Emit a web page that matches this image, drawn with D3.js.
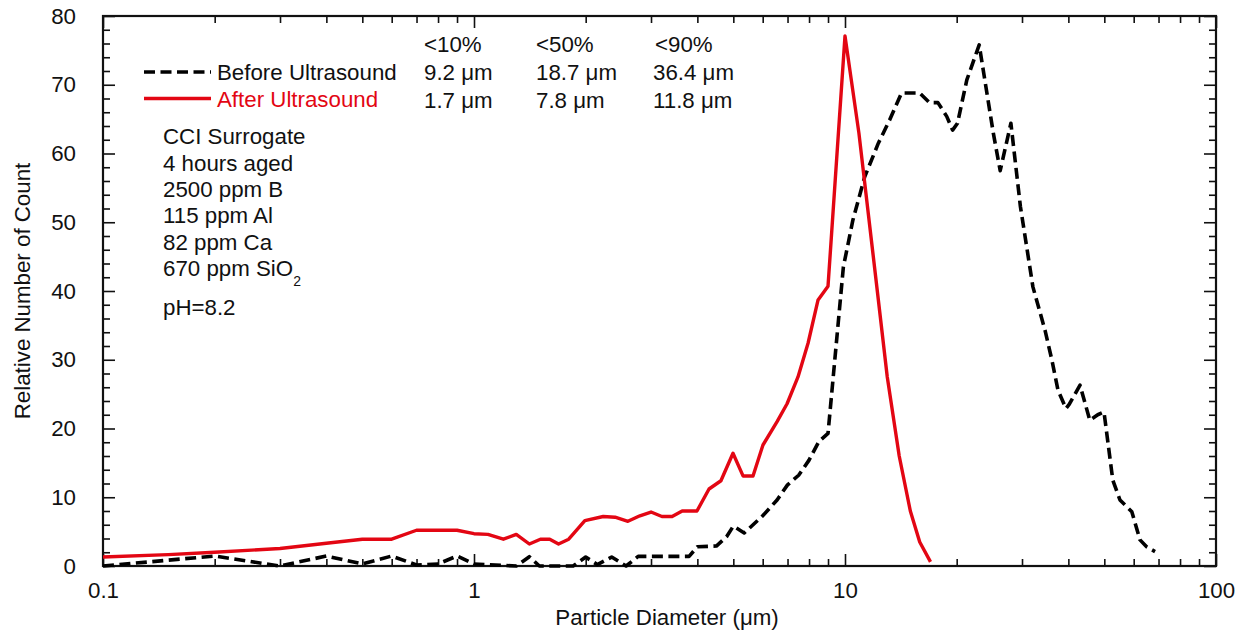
<!DOCTYPE html>
<html>
<head>
<meta charset="utf-8">
<script src="https://cdn.jsdelivr.net/npm/d3@7/dist/d3.min.js"></script>
<style>
  html, body { margin: 0; padding: 0; background: #fff; }
  svg text { font-family: "Liberation Sans", Arial, sans-serif; fill: #111; }
</style>
</head>
<body>
<svg id="chart" width="1248" height="634"></svg>
<script>
// Particle size distribution, before and after ultrasound (diameter in µm, relative count)
const beforeDiameter = [0.1, 0.2, 0.3, 0.4, 0.5, 0.6, 0.7, 0.8, 0.9, 1.0, 1.3, 1.41, 1.5, 1.85, 2.0, 2.15,
  2.35, 2.57, 2.77, 3.8, 4.0, 4.5, 4.8, 5.0, 5.35, 6.0, 6.56, 7.0, 7.5, 8.0, 8.5, 9.0, 9.9, 10.5, 11.3,
  12.3, 13.2, 14.2, 15.9, 16.9, 17.8, 18.8, 19.5, 20.1, 21.3, 23.0, 25.1, 26.2, 28.0, 29.7, 32.1, 34.6,
  36.1, 37.5, 39.4, 40.2, 43.0, 45.7, 48.0, 49.9, 52.7, 55.1, 59.3, 62.4, 65.0, 68.5];
const beforeCount = [0, 1.45, 0, 1.45, 0.3, 1.45, 0.15, 0.3, 1.45, 0.3, 0, 1.35, 0, 0, 1.3, 0.2,
  1.3, 0, 1.4, 1.4, 2.8, 2.9, 4.3, 5.8, 4.8, 7.3, 9.6, 11.8, 13.2, 15.4, 18.1, 19.3, 43.5, 50.3, 56.6,
  61.5, 64.9, 68.8, 68.8, 67.4, 67.4, 65.4, 63.4, 64.4, 70.7, 75.8, 63.0, 57.5, 64.4, 52.3, 40.6, 34.3,
  30.0, 25.6, 22.9, 23.5, 26.3, 21.2, 22.0, 22.4, 12.5, 9.6, 7.9, 3.8, 2.8, 2.1];

const afterDiameter = [0.1, 0.15, 0.2, 0.3, 0.4, 0.5, 0.6, 0.7, 0.8, 0.9, 1.0, 1.09, 1.2, 1.3, 1.41,
  1.51, 1.6, 1.69, 1.8, 1.99, 2.23, 2.4, 2.6, 2.8, 3.0, 3.21, 3.42, 3.64, 3.99, 4.3, 4.63, 4.99, 5.31,
  5.65, 6.01, 6.56, 6.98, 7.47, 7.95, 8.46, 9.0, 10.0, 10.9, 12.3, 13.0, 14.0, 15.0, 15.9, 17.0];
const afterCount = [1.3, 1.65, 2.0, 2.55, 3.3, 3.9, 3.9, 5.2, 5.2, 5.2, 4.7, 4.6, 3.9, 4.6, 3.2,
  3.9, 3.9, 3.2, 3.9, 6.6, 7.2, 7.1, 6.5, 7.3, 7.85, 7.2, 7.2, 8.0, 8.0, 11.2, 12.4, 16.4, 13.1,
  13.1, 17.6, 21.0, 23.6, 27.5, 32.4, 38.7, 40.7, 77.1, 63.0, 38.7, 27.5, 16.0, 8.0, 3.5, 0.6];

const seriesNames = ["Before Ultrasound", "After Ultrasound"];
const percentileHeaders = ["<10%", "<50%", "<90%"];
const beforePercentiles = ["9.2", "18.7", "36.4"];
const afterPercentiles = ["1.7", "7.8", "11.8"];
const sampleNotes = ["CCI Surrogate", "4 hours aged", "2500 ppm B", "115 ppm Al", "82 ppm Ca"];

const xMajorTicks = [0.1, 1, 10, 100];
const xTickLabels = ["0.1", "1", "10", "100"];
const yMajorTicks = [0, 10, 20, 30, 40, 50, 60, 70, 80];

const RED = "#e30613";
const FONT = 22.3;

const svg = d3.select("#chart");
const plotLeft = 103, plotRight = 1216, plotTop = 16, plotBottom = 566;

const x = d3.scaleLog().domain([0.1, 100]).range([plotLeft, plotRight]);
const y = d3.scaleLinear().domain([0, 80]).range([plotBottom, plotTop]);

const xMinor = [];
[0.1, 1, 10].forEach(dec => { for (let k = 2; k <= 9; k++) xMinor.push(+(dec * k).toPrecision(3)); });
const yMinor = d3.range(0, 81, 2).filter(v => v % 10 !== 0);

// Bottom axis: labelled major ticks plus minor ticks, all pointing into the plot
svg.append("g").attr("transform", `translate(0,${plotBottom})`)
  .call(d3.axisBottom(x).tickValues(xMajorTicks).tickSize(-12).tickPadding(16)
    .tickFormat((d, i) => xTickLabels[i]));
svg.append("g").attr("transform", `translate(0,${plotBottom})`)
  .call(d3.axisBottom(x).tickValues(xMinor).tickSize(-7).tickFormat(""));
// Top axis mirrors the ticks
svg.append("g").attr("transform", `translate(0,${plotTop})`)
  .call(d3.axisTop(x).tickValues(xMajorTicks).tickSize(-12).tickFormat(""));
svg.append("g").attr("transform", `translate(0,${plotTop})`)
  .call(d3.axisTop(x).tickValues(xMinor).tickSize(-7).tickFormat(""));

// Left axis with labels, right axis mirrors ticks
svg.append("g").attr("transform", `translate(${plotLeft},0)`)
  .call(d3.axisLeft(y).tickValues(yMajorTicks).tickSize(-12).tickPadding(27).tickFormat(d3.format("d")));
svg.append("g").attr("transform", `translate(${plotLeft},0)`)
  .call(d3.axisLeft(y).tickValues(yMinor).tickSize(-7).tickFormat(""));
svg.append("g").attr("transform", `translate(${plotRight},0)`)
  .call(d3.axisRight(y).tickValues(yMajorTicks).tickSize(-12).tickFormat(""));
svg.append("g").attr("transform", `translate(${plotRight},0)`)
  .call(d3.axisRight(y).tickValues(yMinor).tickSize(-7).tickFormat(""));

svg.selectAll(".domain").remove();
svg.selectAll(".tick line").attr("stroke", "#111").attr("stroke-width", 1.6);
svg.selectAll(".tick text").attr("font-size", FONT).style("font-family", '"Liberation Sans", Arial, sans-serif').attr("fill", "#111");

// Plot frame
svg.append("rect").attr("x", plotLeft).attr("y", plotTop)
  .attr("width", plotRight - plotLeft).attr("height", plotBottom - plotTop)
  .attr("fill", "none").attr("stroke", "#111").attr("stroke-width", 2.2);

// Axis titles
svg.append("text").attr("x", 667).attr("y", 625)
  .attr("text-anchor", "middle").attr("font-size", FONT)
  .text("Particle Diameter (μm)");
svg.append("text").attr("transform", `translate(30,${(plotTop + plotBottom) / 2}) rotate(-90)`)
  .attr("text-anchor", "middle").attr("font-size", FONT)
  .text("Relative Number of Count");

// Distribution curves
const line = d3.line().x(d => x(d[0])).y(d => y(d[1]));
const beforeData = d3.zip(beforeDiameter, beforeCount);
const afterData = d3.zip(afterDiameter, afterCount);

svg.append("path").datum(beforeData).attr("d", line)
  .attr("fill", "none").attr("stroke", "#000").attr("stroke-width", 3.6)
  .attr("stroke-dasharray", "11,5.5").attr("stroke-linejoin", "round");
svg.append("path").datum(afterData).attr("d", line)
  .attr("fill", "none").attr("stroke", RED).attr("stroke-width", 3.4)
  .attr("stroke-linejoin", "round");

// Legend
const legend = svg.append("g");
[[72, "#000", "11,5.5", seriesNames[0], "#111"], [98.5, RED, null, seriesNames[1], RED]].forEach(([ly, col, dash, label, tcol]) => {
  legend.append("line").attr("x1", 144).attr("x2", 211).attr("y1", ly).attr("y2", ly)
    .attr("stroke", col).attr("stroke-width", 3.6).attr("stroke-dasharray", dash);
  legend.append("text").attr("x", 217).attr("y", ly + 8).attr("font-size", FONT)
    .style("fill", tcol).text(label);
});

// Percentile table
const cols = [424, 536, 653];
percentileHeaders.forEach((h, i) => {
  svg.append("text").attr("x", cols[i] + (i === 2 ? 2 : 0)).attr("y", 52).attr("font-size", FONT).text(h);
  svg.append("text").attr("x", cols[i]).attr("y", 80).attr("font-size", FONT).text(beforePercentiles[i] + " μm");
  svg.append("text").attr("x", cols[i]).attr("y", 108.3).attr("font-size", FONT).text(afterPercentiles[i] + " μm");
});

// Sample description
const notes = svg.append("g").attr("font-size", FONT);
sampleNotes.forEach((t, i) => {
  notes.append("text").attr("x", 163).attr("y", 144.3 + i * 26.3).text(t);
});
const sio = notes.append("text").attr("x", 163).attr("y", 144.3 + 5 * 26.3);
sio.append("tspan").text("670 ppm SiO");
sio.append("tspan").attr("font-size", 14).attr("dy", 10).text("2");
notes.append("text").attr("x", 163).attr("y", 315).text("pH=8.2");
</script>
</body>
</html>
